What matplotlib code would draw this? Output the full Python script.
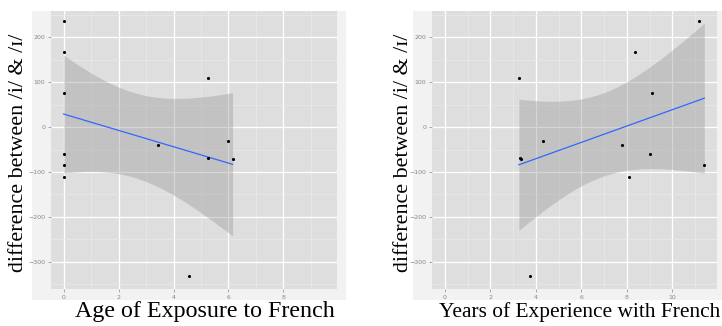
import numpy as np
import matplotlib
matplotlib.use('Agg')
import matplotlib.pyplot as plt
from matplotlib.patches import Rectangle

# one row per participant
diff_i_I = [236, 167, 76, -60, -85, -111, -39, 110, -68, -32, -70, -333]
age_exposure = [0, 0, 0, 0, 0, 0, 3.45, 5.26, 5.26, 6.0, 6.15, 4.56]
years_experience = [11.15, 8.35, 9.1, 9.0, 11.4, 8.1, 7.8, 3.25, 3.3, 4.29, 3.34, 3.75]

y_label = "difference between /i/ & /\u026a/"
x_labels = ["Age of Exposure to French", "Years of Experience with French"]
x_ticks = [[0, 2, 4, 6, 8], [0, 2, 4, 6, 8, 10]]
x_minor = [[1, 3, 5, 7, 9], [1, 3, 5, 7, 9, 11]]
x_lims = [(-0.46, 9.95), (-0.57, 11.97)]
y_ticks = [-300, -200, -100, 0, 100, 200]
y_minor = [-350, -250, -150, -50, 50, 150, 250]
y_lim = (-361, 259)

T_975_DF10 = 2.228  # t quantile for 95% CI, n = 12

PANEL = '#DEDEDE'
OUTER = '#F2F2F2'
SERIF = ['Liberation Serif', 'DejaVu Serif']

W, H = 722, 326
fig = plt.figure(figsize=(W / 100, H / 100), dpi=100)

def px_rect(x0, y0, x1, y1):
    # pixel box (top-left origin) -> figure fraction
    return [x0 / W, 1 - y1 / H, (x1 - x0) / W, (y1 - y0) / H]

# light outer backgrounds of the two ggplot panels
for (x0, y0, x1, y1) in [(32, 11, 346, 300), (413, 11, 722, 300)]:
    l, b, w, h = px_rect(x0, y0, x1, y1)
    fig.patches.append(Rectangle((l, b), w, h, transform=fig.transFigure,
                                 facecolor=OUTER, edgecolor='none', zorder=-5))

panel_boxes = [(51, 11, 337, 289), (432, 11, 717.3, 289)]
label_x = [204.5, 580]
label_size = [17.3, 15.4]
ylabel_x = [19, 403.5]


def lm_band(x, y, xs):
    x = np.asarray(x, float)
    y = np.asarray(y, float)
    n = len(x)
    slope, icpt = np.polyfit(x, y, 1)
    resid = y - (slope * x + icpt)
    s = np.sqrt(np.sum(resid ** 2) / (n - 2))
    sxx = np.sum((x - x.mean()) ** 2)
    fit = slope * xs + icpt
    se = s * np.sqrt(1.0 / n + (xs - x.mean()) ** 2 / sxx)
    return fit, fit - T_975_DF10 * se, fit + T_975_DF10 * se


for i, xdata in enumerate([age_exposure, years_experience]):
    ax = fig.add_axes(px_rect(*panel_boxes[i]))
    ax.set_zorder(1)
    ax.set_facecolor(PANEL)
    for sp in ax.spines.values():
        sp.set_visible(False)

    ax.set_xlim(*x_lims[i])
    ax.set_ylim(*y_lim)
    ax.set_xticks(x_ticks[i])
    ax.set_xticks(x_minor[i], minor=True)
    ax.set_yticks(y_ticks)
    ax.set_yticks(y_minor, minor=True)
    ax.grid(which='major', color='white', linewidth=0.9)
    ax.grid(which='minor', color='#EAEAEA', linewidth=0.5)
    ax.set_axisbelow(True)
    ax.tick_params(which='major', length=2, width=0.5, color='#888888',
                   labelsize=4.5, labelcolor='#888888', pad=2)
    ax.tick_params(which='minor', length=0)

    xs = np.linspace(min(xdata), max(xdata), 100)
    fit, lo, hi = lm_band(xdata, diff_i_I, xs)
    ax.fill_between(xs, lo, hi, color='#999999', alpha=0.4, linewidth=0, zorder=2)
    ax.plot(xs, fit, color='#3366FF', linewidth=0.9, zorder=3)
    ax.scatter(xdata, diff_i_I, s=5, color='black', zorder=4, linewidths=0)

    fig.text(label_x[i] / W, 1 - 312 / H, x_labels[i], ha='center', va='center',
             family=SERIF, fontsize=label_size[i])
    fig.text(ylabel_x[i] / W, 1 - 152.5 / H, y_label, ha='center', va='center',
             rotation=90, family=SERIF, fontsize=15.8)

fig.savefig('out.png', dpi=100)
